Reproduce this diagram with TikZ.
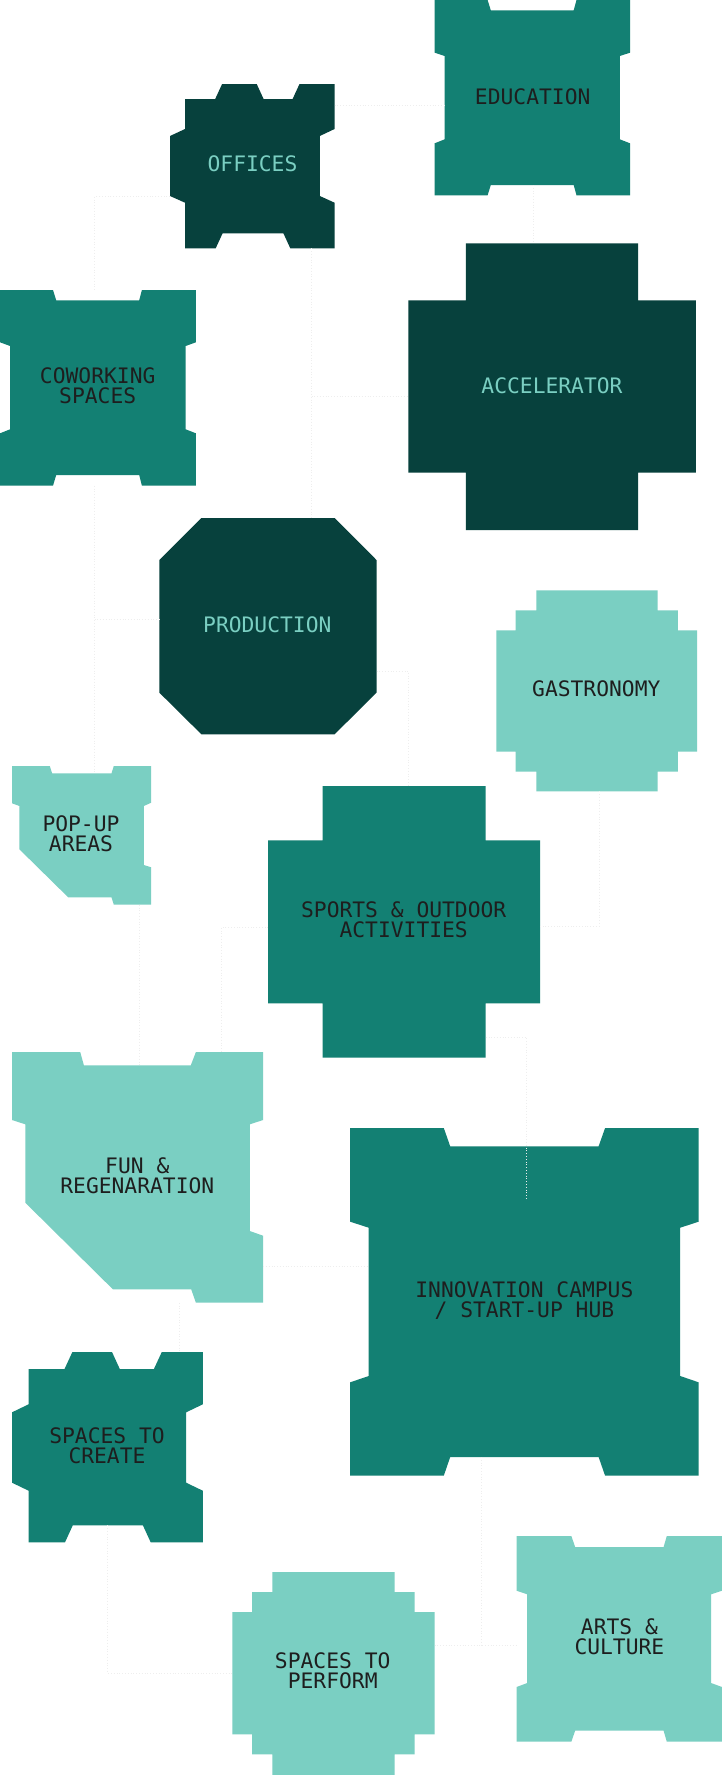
\documentclass[tikz,border=0pt]{standalone}
\usepackage{fontspec}
\newfontfamily\lab{DejaVu Sans Mono}
\definecolor{cdark}{RGB}{7,65,61}
\definecolor{cmid}{RGB}{19,128,115}
\definecolor{clight}{RGB}{122,207,194}
\definecolor{cink}{RGB}{30,30,30}
\definecolor{cline}{RGB}{238,238,238}
\tikzset{
  lbl/.style={align=center, font=\lab\fontsize{21.3}{20}\selectfont, inner sep=0pt},
  onDark/.style={lbl, text=clight},
  onLight/.style={lbl, text=cink},
  conn/.style={draw=cline, dotted, line width=0.8pt}
}
\begin{document}
\begin{tikzpicture}[x=1pt,y=-1pt]
\useasboundingbox (0,0) rectangle (722,1775);
\fill[white] (0,0) rectangle (722,1775);
% OFFICES
\fill[cdark] (185,99) -- (215.2,99) -- (222.1,84) -- (256.7,84) -- (263.6,99) -- (292.6,99) -- (299.5,84) -- (334.6,84) -- (334.6,129) -- (319.8,136) -- (319.8,196) -- (334.6,202.7) -- (334.6,248.3) -- (290.3,248.3) -- (283.4,233.3) -- (222.6,233.3) -- (215.7,248.3) -- (185,248.3) -- (185,202.7) -- (170,196) -- (170,136) -- (185,129) -- cycle;
% EDUCATION
\fill[cmid] (434.6,0) -- (487.6,0) -- (490.8,10.3) -- (573.7,10.3) -- (576.5,0) -- (630,0) -- (630,52.7) -- (619.8,56) -- (619.8,139.3) -- (630,143.3) -- (630,195.3) -- (576.5,195.3) -- (573.7,185) -- (490.8,185) -- (487.6,195.3) -- (434.6,195.3) -- (434.6,143.3) -- (444.7,139.3) -- (444.7,56) -- (434.6,52.7) -- cycle;
% COWORKING
\fill[cmid] (0,290) -- (53,290) -- (56.2,300.3) -- (139.2,300.3) -- (141.9,290) -- (195.9,290) -- (195.9,342.3) -- (185.7,346) -- (185.7,429.3) -- (195.9,433.3) -- (195.9,485.7) -- (141.9,485.7) -- (139.2,475) -- (56.2,475) -- (53,485.7) -- (0,485.7) -- (0,433.3) -- (10.1,429.3) -- (10.1,346) -- (0,342.3) -- cycle;
% ACCELERATOR
\fill[cdark] (465.9,243.3) -- (638.2,243.3) -- (638.2,300.3) -- (695.9,300.3) -- (695.9,472.7) -- (638.2,472.7) -- (638.2,530) -- (465.9,530) -- (465.9,472.7) -- (408.3,472.7) -- (408.3,300.3) -- (465.9,300.3) -- cycle;
% PRODUCTION
\fill[cdark] (201.4,518) -- (334.6,518) -- (376.5,560) -- (376.5,692.7) -- (334.6,734.3) -- (201.4,734.3) -- (159.4,692.7) -- (159.4,560) -- cycle;
% GASTRONOMY
\fill[clight] (536.4,590.3) -- (657.6,590.3) -- (657.6,610.3) -- (677.9,610.3) -- (677.9,630.3) -- (697.2,630.3) -- (697.2,751.7) -- (677.9,751.7) -- (677.9,771.7) -- (657.6,771.7) -- (657.6,791.3) -- (536.4,791.3) -- (536.4,771.7) -- (515.7,771.7) -- (515.7,751.7) -- (496.3,751.7) -- (496.3,630.3) -- (515.7,630.3) -- (515.7,610.3) -- (536.4,610.3) -- cycle;
% POP-UP
\fill[clight] (12,766) -- (49.8,766) -- (52.1,773.3) -- (111.5,773.3) -- (113.8,766) -- (151.2,766) -- (151.2,802.7) -- (143.8,806) -- (143.8,865) -- (151.2,867.3) -- (151.2,904.7) -- (113.8,904.7) -- (111.5,897.3) -- (68.2,897.3) -- (19.4,849.3) -- (19.4,806) -- (12,803.3) -- cycle;
% SPORTS
\fill[cmid] (322.6,786) -- (485.7,786) -- (485.7,840.3) -- (540.1,840.3) -- (540.1,1003.3) -- (485.7,1003.3) -- (485.7,1057.7) -- (322.6,1057.7) -- (322.6,1003.3) -- (268.2,1003.3) -- (268.2,840.3) -- (322.6,840.3) -- cycle;
% FUN
\fill[clight] (12,1052) -- (80.2,1052) -- (83.9,1065.3) -- (190.8,1065.3) -- (195.9,1052) -- (263.1,1052) -- (263.1,1120) -- (249.8,1124.3) -- (249.8,1231) -- (263.1,1235.7) -- (263.1,1302.7) -- (195.9,1302.7) -- (191.2,1289.3) -- (112.9,1289.3) -- (25.3,1202.7) -- (25.3,1124.3) -- (12,1120) -- cycle;
% INNOVATION
\fill[cmid] (350.2,1128) -- (443.8,1128) -- (450.2,1146.3) -- (598.6,1146.3) -- (605.1,1128) -- (698.6,1128) -- (698.6,1221.7) -- (680.2,1227.7) -- (680.2,1376) -- (698.6,1382.3) -- (698.6,1475.7) -- (605.1,1475.7) -- (598.6,1457) -- (450.2,1457) -- (443.8,1475.7) -- (350.2,1475.7) -- (350.2,1382.3) -- (368.7,1376) -- (368.7,1227.7) -- (350.2,1221.7) -- cycle;
% CREATE
\fill[cmid] (28.6,1369) -- (64.5,1369) -- (72.4,1352) -- (112,1352) -- (119.8,1369) -- (153.9,1369) -- (161.8,1352) -- (202.8,1352) -- (202.8,1404.3) -- (186.2,1412.3) -- (186.2,1482.7) -- (202.8,1490.7) -- (202.8,1542.3) -- (150.7,1542.3) -- (142.9,1525.3) -- (72.8,1525.3) -- (65,1542.3) -- (28.6,1542.3) -- (28.6,1490.7) -- (12,1482.7) -- (12,1412.3) -- (28.6,1404.3) -- cycle;
% PERFORM
\fill[clight] (272.4,1572) -- (394.5,1572) -- (394.5,1592) -- (414.7,1592) -- (414.7,1612) -- (434.6,1612) -- (434.6,1734.3) -- (414.7,1734.3) -- (414.7,1754.3) -- (394.5,1754.3) -- (394.5,1775) -- (272.4,1775) -- (272.4,1754.3) -- (252.1,1754.3) -- (252.1,1734.3) -- (232.3,1734.3) -- (232.3,1612) -- (252.1,1612) -- (252.1,1592) -- (272.4,1592) -- cycle;
% ARTS
\fill[clight] (516.6,1536) -- (571.4,1536) -- (575.1,1547) -- (663.6,1547) -- (666.8,1536) -- (722,1536) -- (722,1590.7) -- (711.1,1594.3) -- (711.1,1683) -- (722,1687) -- (722,1741.7) -- (666.8,1741.7) -- (663.6,1730.7) -- (575.1,1730.7) -- (571.4,1741.7) -- (516.6,1741.7) -- (516.6,1687) -- (527.2,1683) -- (527.2,1594.3) -- (516.6,1590.7) -- cycle;

% connector end points
\coordinate (offR) at (334.6,105);
\coordinate (eduL) at (444.7,105);
\coordinate (eduB) at (533.2,185);
\coordinate (accT) at (533.2,243.3);
\coordinate (offL) at (170,196.7);
\coordinate (cowT) at (94.5,290);
\coordinate (offB) at (311.5,248.3);
\coordinate (proT) at (311.5,518);
\coordinate (accL) at (408.3,396.7);
\coordinate (cowB) at (94.5,485.7);
\coordinate (popT) at (94.5,773.3);
\coordinate (proL) at (159.4,619.3);
\coordinate (proR) at (376.5,671);
\coordinate (spoT) at (408.3,786);
\coordinate (gasB) at (599,791.3);
\coordinate (spoR) at (540.1,926);
\coordinate (popB) at (139.6,904.7);
\coordinate (funT) at (139.6,1065.3);
\coordinate (spoL) at (268.2,927.3);
\coordinate (funTR) at (221,1052);
\coordinate (spoBR) at (485.7,1037.3);
\coordinate (innIn) at (526.7,1199);
\coordinate (funR) at (263.1,1266.7);
\coordinate (innL) at (368.7,1266.7);
\coordinate (funB) at (179.7,1302.7);
\coordinate (creT) at (179.7,1352);
\coordinate (creB) at (107.8,1525.3);
\coordinate (perL) at (232.3,1673.3);
\coordinate (perR) at (434.6,1645);
\coordinate (artL) at (516.6,1645);
\coordinate (innB) at (481,1457);
\coordinate (jArts) at (481,1645);

\draw[conn] (offR) -- (eduL);
\draw[conn] (eduB) -- (accT);
\draw[conn] (offL) -| (cowT);
\draw[conn] (offB) -- (proT);
\draw[conn] (offB |- accL) -- (accL);
\draw[conn] (cowB) -- (popT);
\draw[conn] (cowB |- proL) -- (proL);
\draw[conn] (proR) -| (spoT);
\draw[conn] (gasB) |- (spoR);
\draw[conn] (popB) -- (funT);
\draw[conn] (spoL) -| (funTR);
\draw[conn] (spoBR) -| (innIn);
\draw[conn] (funR) -- (innL);
\draw[conn] (funB) -- (creT);
\draw[conn] (creB) |- (perL);
\draw[conn] (perR) -- (artL);
\draw[conn] (innB) -- (jArts);

% labels
\node[onDark]  (offices) at (252.5,164) {OFFICES};
\node[onLight] (education) at (532.7,96.7) {EDUCATION};
\node[onLight] (coworking) at (97.7,386) {COWORKING\\SPACES};
\node[onDark]  (accelerator) at (552,385.3) {ACCELERATOR};
\node[onDark]  (production) at (267.3,624.3) {PRODUCTION};
\node[onLight] (gastronomy) at (596.3,689) {GASTRONOMY};
\node[onLight] (popup) at (81,834) {POP-UP\\AREAS};
\node[onLight] (sports) at (403.7,920) {SPORTS \& OUTDOOR\\ACTIVITIES};
\node[onLight] (fun) at (137.3,1175.5) {FUN \&\\REGENARATION};
\node[onLight] (innovation) at (524.4,1300.7) {INNOVATION CAMPUS\\/ START-UP HUB};
\node[onLight] (create) at (107,1445.3) {SPACES TO\\CREATE};
\node[onLight] (perform) at (332.7,1671) {SPACES TO\\PERFORM};
\node[onLight] (arts) at (619.4,1637) {ARTS \&\\CULTURE};
\end{tikzpicture}
\end{document}
